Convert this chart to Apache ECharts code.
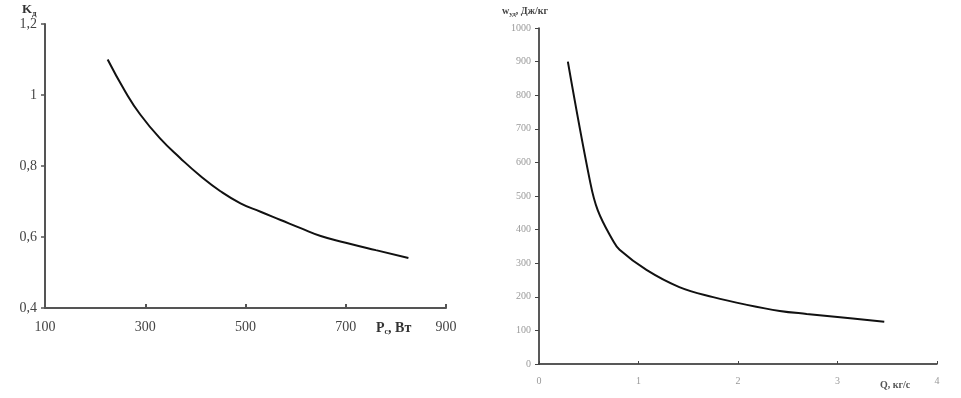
<!DOCTYPE html>
<html><head><meta charset="utf-8">
<script src="https://cdn.jsdelivr.net/npm/echarts@6/dist/echarts.min.js"></script>
<style>html,body{margin:0;padding:0;background:#fff}#c{width:961px;height:398px}</style>
</head><body><div id="c"></div>
<script>
// Left chart: K_д vs P_c, Вт
const leftX = [225, 260, 290, 330, 370, 410, 450, 490, 530, 570, 610, 650, 700, 760, 825];
const leftY = [1.10, 1.01, 0.945, 0.877, 0.822, 0.772, 0.729, 0.695, 0.671, 0.648, 0.625, 0.603, 0.584, 0.563, 0.541];
const leftXTicks = [100, 300, 500, 700, 900];
const leftYTicks = [0.4, 0.6, 0.8, 1.0, 1.2];
// Right chart: w_уд vs Q, кг/с
const rightX = [0.29, 0.51, 0.59, 0.74, 0.81, 1.08, 1.41, 1.75, 2.09, 2.42, 2.69, 3.0, 3.47];
const rightY = [900, 548, 458, 369, 340, 280, 229, 199, 176, 158, 149, 140, 126];
const rightXTicks = [0, 1, 2, 3, 4];
const rightYTicks = [0, 100, 200, 300, 400, 500, 600, 700, 800, 900, 1000];

const serif = '"Liberation Serif","DejaVu Serif",serif';
const chart = echarts.init(document.getElementById('c'), null, {renderer: 'canvas'});
const pair = (xs, ys) => xs.map((x, i) => [x, ys[i]]);

chart.setOption({
  backgroundColor: '#fff',
  animation: false,
  grid: [
    {left: 45, top: 24, width: 401, height: 284},
    {left: 539, top: 28, width: 398, height: 336}
  ],
  xAxis: [
    {gridIndex: 0, type: 'value', min: leftXTicks[0], max: leftXTicks[leftXTicks.length-1], interval: 200,
     splitLine: {show: false},
     axisLine: {lineStyle: {color: '#555', width: 2}},
     axisTick: {show: true, length: 4, inside: true, lineStyle: {color: '#555', width: 2}},
     axisLabel: {fontFamily: serif, fontSize: 14, color: '#444', margin: 12}},
    {gridIndex: 1, type: 'value', min: rightXTicks[0], max: rightXTicks[rightXTicks.length-1], interval: 1,
     splitLine: {show: false},
     axisLine: {lineStyle: {color: '#222', width: 1.5}},
     axisTick: {show: true, length: 3, inside: true, lineStyle: {color: '#444'}},
     axisLabel: {fontFamily: serif, fontSize: 10, color: '#999', margin: 12}}
  ],
  yAxis: [
    {gridIndex: 0, type: 'value', min: leftYTicks[0], max: leftYTicks[leftYTicks.length-1], interval: 0.2,
     splitLine: {show: false},
     axisLine: {show: true, lineStyle: {color: '#555', width: 2}},
     axisTick: {show: true, length: 4, lineStyle: {color: '#555', width: 1.5}},
     axisLabel: {fontFamily: serif, fontSize: 14, color: '#444', margin: 8,
       formatter: v => (Math.round(v*10)/10).toString().replace('.', ',')}},
    {gridIndex: 1, type: 'value', min: rightYTicks[0], max: rightYTicks[rightYTicks.length-1], interval: 100,
     splitLine: {show: false},
     axisLine: {show: true, lineStyle: {color: '#222', width: 1.5}},
     axisTick: {show: true, length: 4, lineStyle: {color: '#444'}},
     axisLabel: {fontFamily: serif, fontSize: 10, color: '#999', margin: 8, formatter: v => String(v)}}
  ],
  series: [
    {type: 'line', xAxisIndex: 0, yAxisIndex: 0, data: pair(leftX, leftY), smooth: 0.5,
     showSymbol: false, lineStyle: {color: '#111', width: 2}},
    {type: 'line', xAxisIndex: 1, yAxisIndex: 1, data: pair(rightX, rightY), smooth: 0.4,
     showSymbol: false, lineStyle: {color: '#111', width: 2}}
  ],
  graphic: [
    {type: 'text', left: 22, top: 3, style: {
      text: '{a|K}{s|д}', rich: {
        a: {fontFamily: serif, fontSize: 13, fontWeight: 'bold', fill: '#333'},
        s: {fontFamily: serif, fontSize: 9, fontWeight: 'bold', fill: '#333', verticalAlign: 'bottom', padding: [8,0,0,0]}
      }}},
    {type: 'text', left: 376, top: 321, style: {
      text: '{a|P}{s|c}{a|, Вт}', rich: {
        a: {fontFamily: serif, fontSize: 14, fontWeight: 'bold', fill: '#333'},
        s: {fontFamily: serif, fontSize: 8, fontWeight: 'bold', fill: '#333', padding: [8,0,0,0]}
      }}},
    {type: 'text', left: 502, top: 6, style: {
      text: '{a|w}{s|уд}{a|, Дж/кг}', rich: {
        a: {fontFamily: serif, fontSize: 10, fontWeight: 'bold', fill: '#444'},
        s: {fontFamily: serif, fontSize: 7, fontWeight: 'bold', fill: '#444', padding: [6,0,0,0]}
      }}},
    {type: 'text', left: 880, top: 380, style: {
      text: 'Q, кг/с', fontFamily: serif, fontSize: 10, fontWeight: 'bold', fill: '#555'}}
  ]
});
</script></body></html>
